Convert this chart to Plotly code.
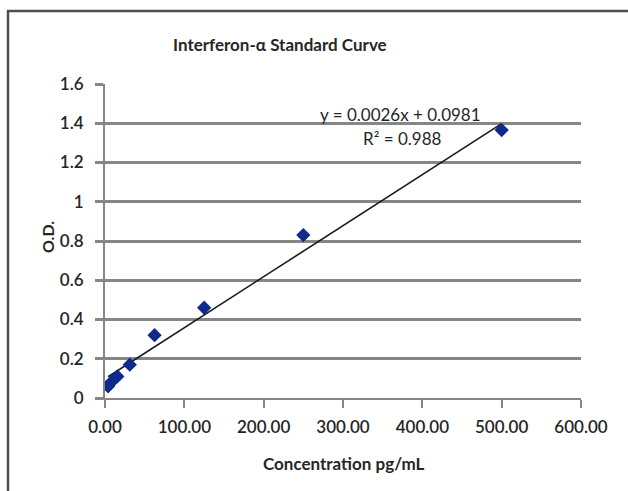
import numpy as np
import plotly.graph_objects as go

# Data
concentration = [3.9, 7.8, 15.6, 31.25, 62.5, 125.0, 250.0, 500.0]
od_values = [0.06, 0.08, 0.11, 0.17, 0.32, 0.46, 0.83, 1.365]
slope = 0.0026
intercept = 0.0981
r_squared = 0.988
x_ticks = [0, 100, 200, 300, 400, 500, 600]
y_ticks = [0, 0.2, 0.4, 0.6, 0.8, 1.0, 1.2, 1.4, 1.6]

W, H = 628, 491
L, R, T, B = 105, 581, 84, 398  # plot area pixel edges

FONT = "Lato"
TXT = "#262626"
GRID = "#868686"

fig = go.Figure()

# trendline from equation over data range
tx = np.array([min(concentration), max(concentration)])
ty = slope * tx + intercept
fig.add_trace(go.Scatter(x=tx, y=ty, mode="lines",
                         line=dict(color="#1a1a1a", width=1.6),
                         hoverinfo="skip", showlegend=False))

fig.add_trace(go.Scatter(x=concentration, y=od_values, mode="markers",
                         marker=dict(symbol="diamond", size=11, color="#0d2a8c",
                                     line=dict(width=0)),
                         showlegend=False))

def px2x(p):
    return (p - L) / (R - L)

def py2y(p):
    return (B - p) / (B - T)

def ann(text, xp, yp, size, angle=0):
    return dict(text=text, x=px2x(xp), y=py2y(yp), xref="paper", yref="paper",
                xanchor="center", yanchor="middle", showarrow=False, textangle=angle,
                font=dict(family=FONT, size=size, color=TXT))

annotations = [
    ann("<b>Interferon-α Standard Curve</b>", 280, 45, 17),
    ann("<b>Concentration pg/mL</b>", 344, 463, 17),
    ann("<b>O.D.</b>", 47, 237, 16, -90),
    ann(f"y = {slope}x + {intercept}", 400, 114, 17),
    ann(f"R² = {r_squared}", 402, 138, 17),
]

shapes = [
    dict(type="rect", xref="paper", yref="paper",
         x0=px2x(8), x1=px2x(660), y0=py2y(540), y1=py2y(11),
         line=dict(color="#505050", width=2.5), fillcolor="rgba(0,0,0,0)",
         layer="below"),
]

tickfont = dict(family=FONT, size=17, color=TXT, weight=600)

fig.update_layout(
    width=W, height=H,
    margin=dict(l=L, r=W - R, t=T, b=H - B, autoexpand=False),
    paper_bgcolor="white", plot_bgcolor="white",
    annotations=annotations, shapes=shapes,
    showlegend=False,
    xaxis=dict(range=[0, 600], tickvals=x_ticks, ticktext=[f"{v:.2f}" for v in x_ticks],
               showgrid=False, zeroline=False, showline=True, linecolor=GRID, linewidth=2,
               ticks="outside", ticklen=8, tickcolor=GRID, tickwidth=1.5,
               tickfont=tickfont, ticklabelstandoff=5),
    yaxis=dict(range=[0, 1.6], tickvals=y_ticks,
               ticktext=[f"{v:g}" for v in y_ticks],
               showgrid=True, gridcolor=GRID, gridwidth=2.6,
               zeroline=False, showline=True, linecolor=GRID, linewidth=2,
               ticks="outside", ticklen=8, tickcolor=GRID, tickwidth=2.6,
               tickfont=tickfont, ticklabelstandoff=8),
)

fig.write_html("out.html")
